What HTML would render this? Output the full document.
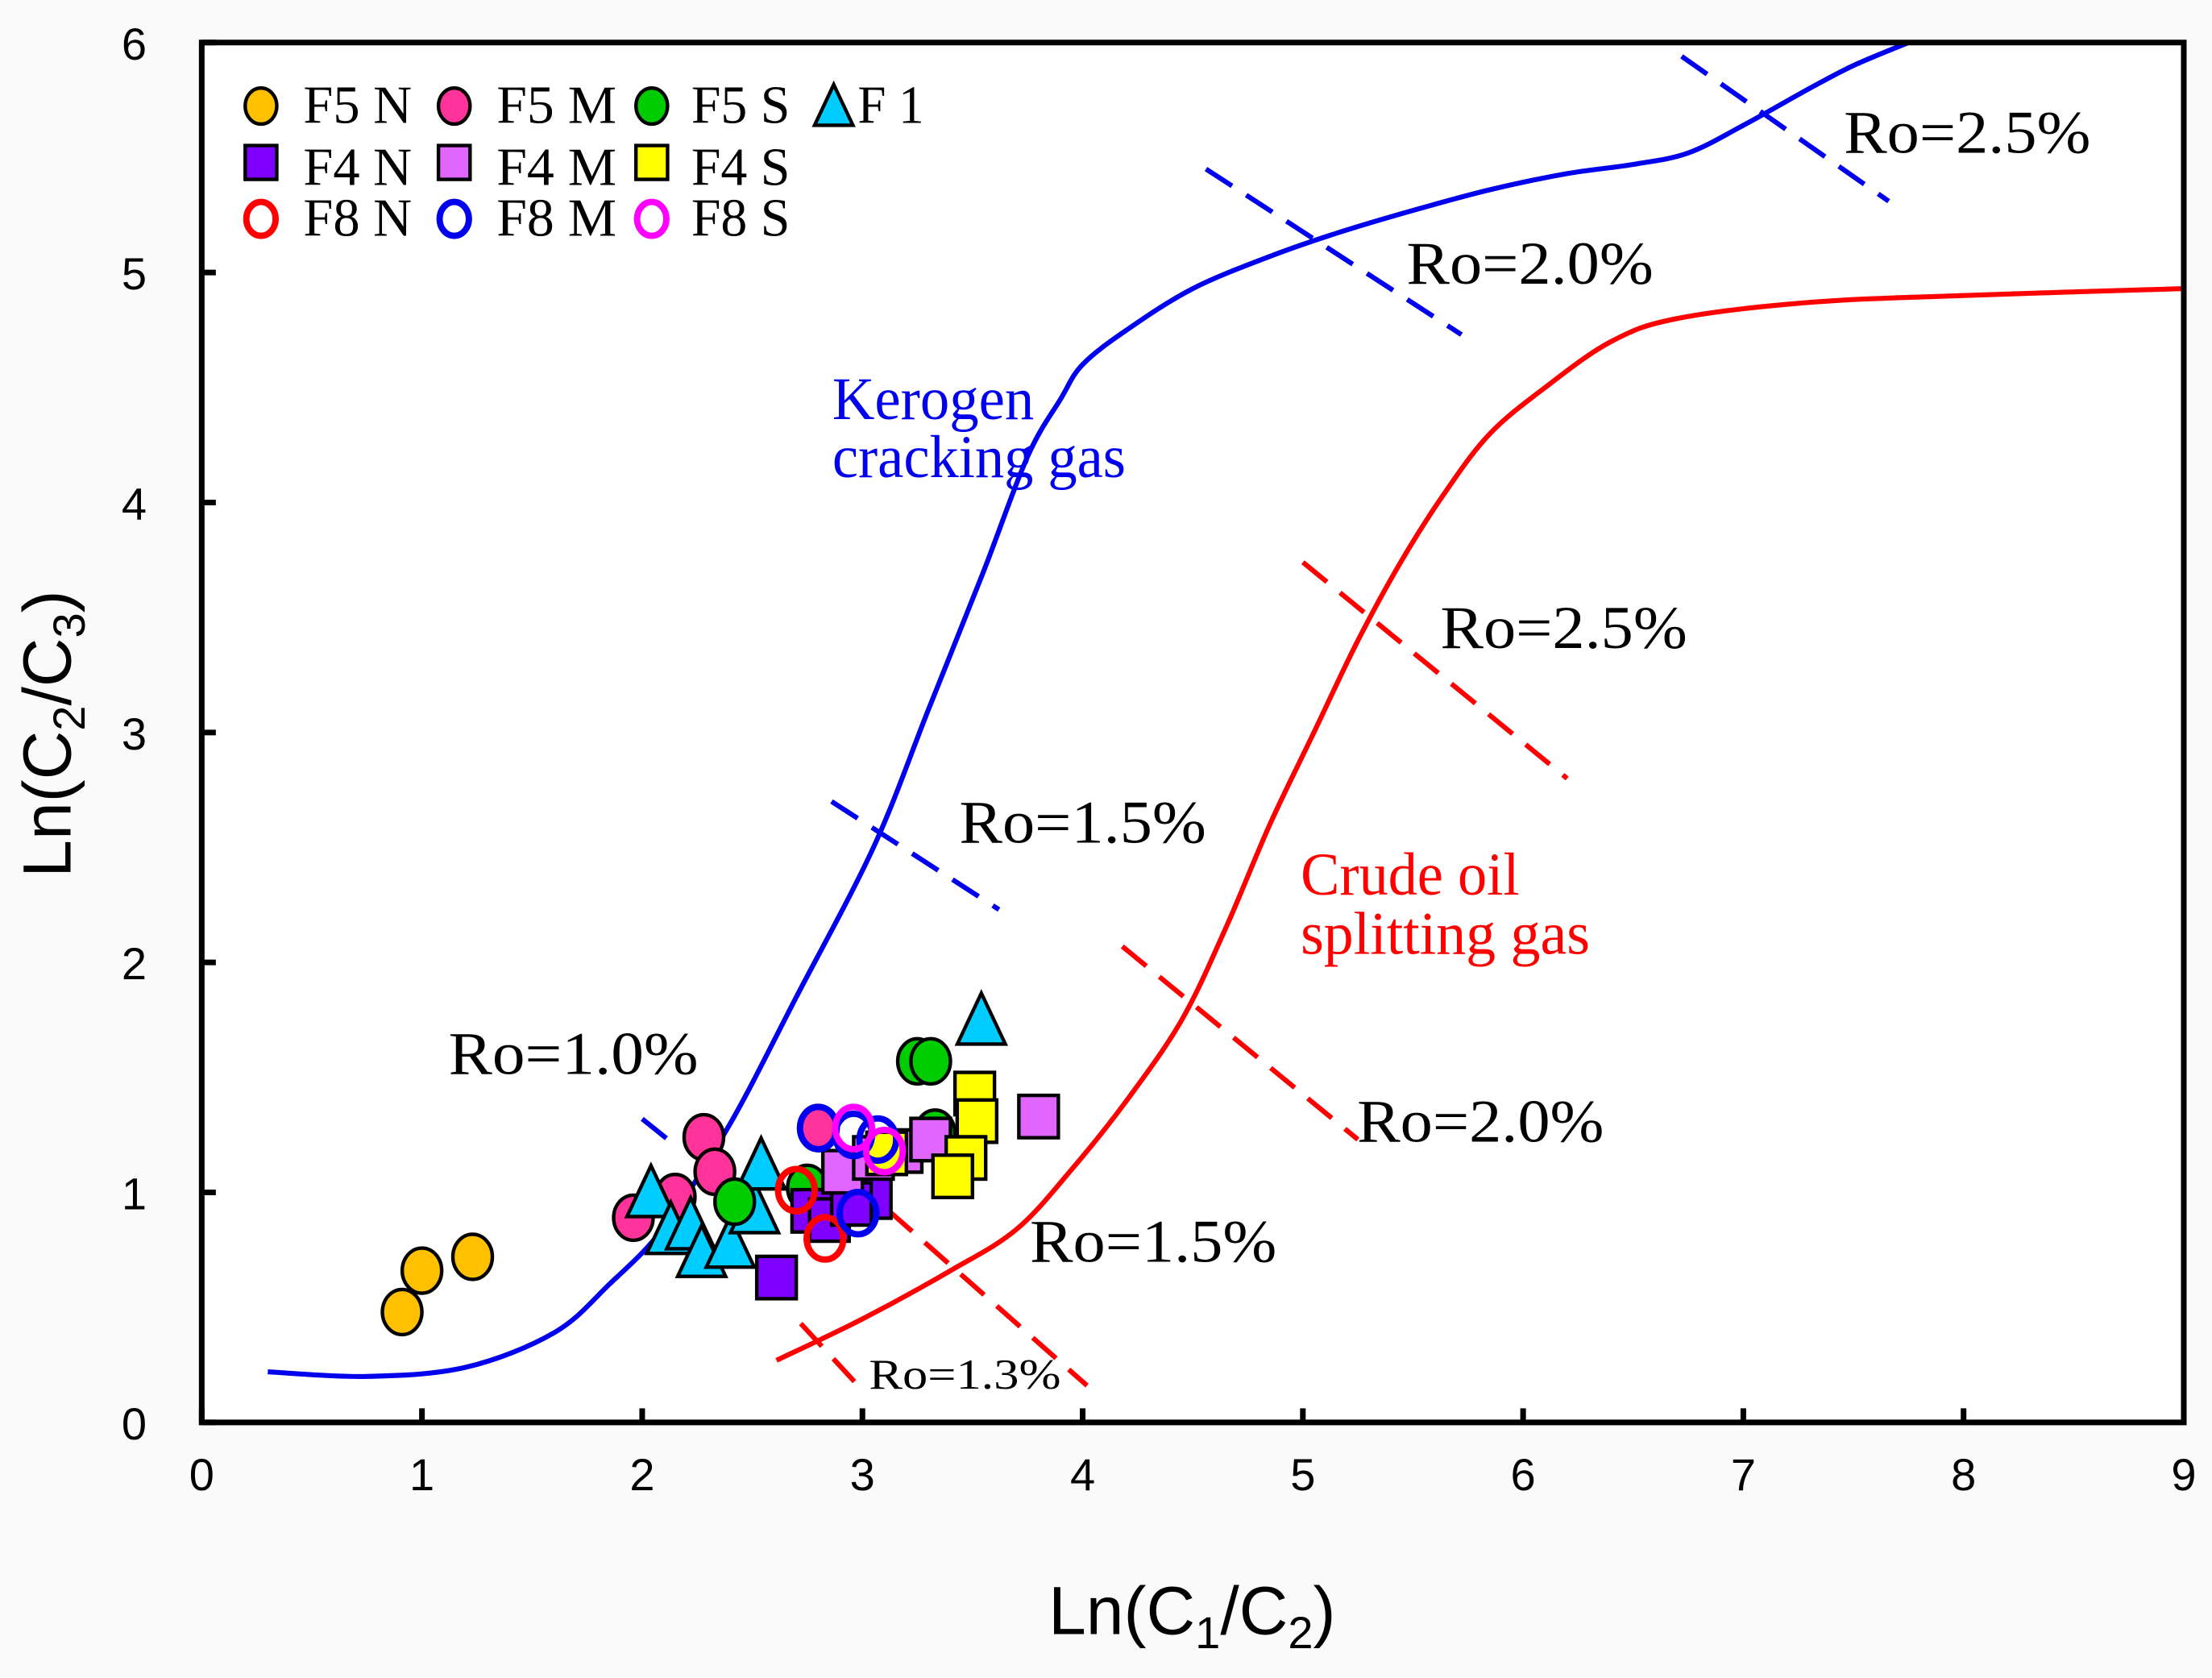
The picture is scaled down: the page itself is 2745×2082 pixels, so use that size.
<!DOCTYPE html>
<html><head><meta charset="utf-8"><style>
html,body{margin:0;padding:0;background:#fafafa;}
svg{display:block;}
text{font-family:"Liberation Serif",serif;}
.sans{font-family:"Liberation Sans",sans-serif;}
</style></head>
<body>
<svg id="chart" width="2745" height="2082" viewBox="0 0 1568 1189" xmlns="http://www.w3.org/2000/svg">
<rect x="0" y="0" width="1568" height="1189" fill="#fafafa"/>
<rect x="143" y="30" width="1405" height="978" fill="#ffffff"/>
<g id="curves"></g>
<g id="points"></g>
<rect x="143" y="30" width="1405" height="978" fill="none" stroke="#000" stroke-width="4"/>
<g id="axes"></g>
<text x="50" y="520" class="sans" font-size="48" text-anchor="middle" transform="rotate(-90 50 520)">Ln(C<tspan font-size="32" dy="10">2</tspan><tspan dy="-10">/C</tspan><tspan font-size="32" dy="10">3</tspan><tspan dy="-10">)</tspan></text>
<text x="845" y="1158" class="sans" font-size="48" text-anchor="middle">Ln(C<tspan font-size="32" dy="10">1</tspan><tspan dy="-10">/C</tspan><tspan font-size="32" dy="10">2</tspan><tspan dy="-10">)</tspan></text>
<g id="labels" font-size="43" lengthAdjust="spacingAndGlyphs">
<text x="318" y="761" textLength="177" lengthAdjust="spacingAndGlyphs">Ro=1.0%</text>
<text x="680" y="597" textLength="175" lengthAdjust="spacingAndGlyphs">Ro=1.5%</text>
<text x="997" y="201" textLength="175" lengthAdjust="spacingAndGlyphs">Ro=2.0%</text>
<text x="1307" y="108" textLength="175" lengthAdjust="spacingAndGlyphs">Ro=2.5%</text>
<text x="1021" y="459" textLength="175" lengthAdjust="spacingAndGlyphs">Ro=2.5%</text>
<text x="962" y="809" textLength="175" lengthAdjust="spacingAndGlyphs">Ro=2.0%</text>
<text x="730" y="894" textLength="175" lengthAdjust="spacingAndGlyphs">Ro=1.5%</text>
<text x="616" y="984" font-size="30" textLength="136" lengthAdjust="spacingAndGlyphs">Ro=1.3%</text>
<text x="590" y="297" fill="#0000ee" textLength="143" lengthAdjust="spacingAndGlyphs">Kerogen</text>
<text x="590" y="338" fill="#0000ee" textLength="208" lengthAdjust="spacingAndGlyphs">cracking gas</text>
<text x="922" y="634" fill="#ff0000" textLength="155" lengthAdjust="spacingAndGlyphs">Crude oil</text>
<text x="922" y="676" fill="#ff0000" textLength="205" lengthAdjust="spacingAndGlyphs">splitting gas</text>
</g>
<g id="legend"></g>
</svg>
<script>
const NS="http://www.w3.org/2000/svg";
const xTicks=[0,1,2,3,4,5,6,7,8,9];
const yTicks=[0,1,2,3,4,5,6];
const kerogenX=[0.3,0.75,1.2,1.6,1.85,2.1,2.4,2.7,3.05,3.3,3.55,3.75,3.9,4.0,4.2,4.5,4.85,5.15,5.5,5.85,6.2,6.5,6.75,7.0,7.3,7.5,7.75];
const kerogenY=[0.22,0.2,0.24,0.39,0.6,0.85,1.3,1.85,2.5,3.1,3.7,4.2,4.45,4.6,4.75,4.93,5.07,5.17,5.27,5.36,5.43,5.47,5.52,5.64,5.8,5.9,6.0];
const oilX=[2.61,3.0,3.4,3.7,3.95,4.2,4.45,4.65,4.85,5.05,5.25,5.45,5.65,5.85,6.1,6.4,6.7,7.3,8.0,9.0];
const oilY=[0.27,0.45,0.66,0.84,1.1,1.4,1.75,2.15,2.6,3.0,3.4,3.75,4.05,4.3,4.5,4.7,4.8,4.87,4.9,4.93];
const roBlue=[[2.0,1.32,2.13,1.22],[2.86,2.7,3.62,2.23],[4.56,5.45,5.72,4.73],[6.72,5.94,7.66,5.31]];
const roRed=[[2.72,0.43,3.0,0.14],[3.12,0.92,4.02,0.16],[4.18,2.07,5.25,1.23],[5.0,3.74,6.2,2.8]];
const f5nX=[0.91,1.0,1.23], f5nY=[0.48,0.66,0.72];
const f5mX=[1.96,2.15,2.28,2.33,2.8], f5mY=[0.89,0.98,1.24,1.09,1.28];
const f5sX=[2.42,2.75,3.25,3.31,3.33], f5sY=[0.96,1.02,1.57,1.57,1.26];
const f1X=[2.04,2.13,2.22,2.27,2.4,2.51,2.54,3.54], f1Y=[1.0,0.84,0.86,0.74,0.78,0.93,1.12,1.75];
const f4nX=[2.61,2.77,2.85,3.04,2.95], f4nY=[0.63,0.92,0.88,0.98,0.95];
const f4mX=[3.8,2.91,3.18,3.31,3.05], f4mY=[1.33,1.09,1.18,1.23,1.15];
const f4sX=[3.51,3.52,3.47,3.41,3.11], f4sY=[1.43,1.31,1.15,1.07,1.17];
const f8nX=[2.7,2.83], f8nY=[1.01,0.8];
const f8mX=[2.8,2.98,3.07,2.96], f8mY=[1.28,0.91,1.23,1.25];
const f8sX=[2.96,3.1], f8sY=[1.28,1.18];
const X0=143,X1=1548,Y0=1008,Y1=30;
const sx=v=>X0+(X1-X0)*v/9;
const sy=v=>Y0-(Y0-Y1)*v/6;
function mk(tag,attrs,parent){const e=document.createElementNS(NS,tag);for(const k in attrs)e.setAttribute(k,attrs[k]);parent.appendChild(e);return e;}
const axes=document.getElementById('axes');
xTicks.forEach(t=>{
  const l=mk('line',{x1:sx(t),x2:sx(t),y1:Y0,y2:Y0-10,stroke:'#000','stroke-width':4},axes);
  
  
  const tx=mk('text',{x:sx(t),y:Y0+48,'font-size':32,'text-anchor':'middle',class:'sans'},axes);
  tx.textContent=t;
  
  
});
yTicks.forEach(t=>{
  const l=mk('line',{x1:X0,x2:X0+10,y1:sy(t),y2:sy(t),stroke:'#000','stroke-width':4},axes);
  
  
  const tx=mk('text',{x:104,y:sy(t)+12,'font-size':32,'text-anchor':'end',class:'sans'},axes);
  tx.textContent=t;
  
  
});
const curves=document.getElementById('curves');
function curve(xs,ys,color,name){
  let d='M'+sx(xs[0])+','+sy(ys[0]);
  const P=xs.map((x,i)=>[sx(x),sy(ys[i])]);
  for(let i=0;i<P.length-1;i++){
    const p0=P[Math.max(i-1,0)],p1=P[i],p2=P[i+1],p3=P[Math.min(i+2,P.length-1)];
    d+=' C'+(p1[0]+(p2[0]-p0[0])/6)+','+(p1[1]+(p2[1]-p0[1])/6)+' '+(p2[0]-(p3[0]-p1[0])/6)+','+(p2[1]-(p3[1]-p1[1])/6)+' '+p2[0]+','+p2[1];
  }
  const p=mk('path',{d:d,fill:'none',stroke:color,'stroke-width':3.5},curves);
  
  
}
curve(kerogenX,kerogenY,'#0000ee','kerogen-cracking-curve');
curve(oilX,oilY,'#ff0000','crude-oil-splitting-curve');
function dashes(arr,color,name){
  arr.forEach(s=>{
    const l=mk('line',{x1:sx(s[0]),y1:sy(s[1]),x2:sx(s[2]),y2:sy(s[3]),stroke:color,'stroke-width':3.5,'stroke-dasharray':'22 12'},curves);
    
    
  });
}
dashes(roBlue,'#0000ee','kerogen-ro-isoline');
dashes(roRed,'#ff0000','oil-ro-isoline');
const pts=document.getElementById('points');
function marker(shape,cx,cy,fill,stroke,parent,small){
  const k=small?0.8:1;let e;
  if(shape==='c'){e=mk('ellipse',{cx:cx,cy:cy,rx:14*k,ry:16*k,fill:fill,stroke:'#000','stroke-width':2.5},parent);}
  else if(shape==='o'){e=mk('ellipse',{cx:cx,cy:cy,rx:13*k,ry:15*k,fill:'none',stroke:stroke,'stroke-width':4.5},parent);}
  else if(shape==='s'){e=mk('rect',{x:cx-14*k,y:cy-15*k,width:28*k,height:30*k,fill:fill,stroke:'#000','stroke-width':2.5},parent);}
  else {const w=17*k,h=19*k;e=mk('polygon',{points:(cx)+','+(cy-h)+' '+(cx+w)+','+(cy+h*0.9)+' '+(cx-w)+','+(cy+h*0.9),fill:fill,stroke:'#000','stroke-width':2.5},parent);}
  return e;
}
const S=[
 ['F5 N','c','#ffc000',null,f5nX,f5nY],
 ['F5 M','c','#ff3399',null,f5mX,f5mY],
 ['F1','t','#00ccff',null,f1X,f1Y],
 ['F5 S','c','#00cc00',null,f5sX,f5sY],
 ['F4 N','s','#7f00ff',null,f4nX,f4nY],
 ['F4 M','s','#e066ff',null,f4mX,f4mY],
 ['F4 S','s','#ffff00',null,f4sX,f4sY],
 ['F8 N','o',null,'#ff0000',f8nX,f8nY],
 ['F8 M','o',null,'#0000ee',f8mX,f8mY],
 ['F8 S','o',null,'#ff00ff',f8sX,f8sY]
];
S.forEach(s=>{
  s[4].forEach((x,i)=>{
    const e=marker(s[1],sx(x),sy(s[5][i]),s[2],s[3],pts,false);
    
    
  });
});
const leg=document.getElementById('legend');
const L=[['F5 N','c','#ffc000',null,185,75,215,77],['F5 M','c','#ff3399',null,322,75,352,85],['F5 S','c','#00cc00',null,462,75,490,70],['F 1','t','#00ccff',null,591,75,608,47],
['F4 N','s','#7f00ff',null,185,115,215,77],['F4 M','s','#e066ff',null,322,115,352,85],['F4 S','s','#ffff00',null,462,115,490,70],
['F8 N','o',null,'#ff0000',185,155,215,77],['F8 M','o',null,'#0000ee',322,155,352,85],['F8 S','o',null,'#ff00ff',462,155,490,70]];
L.forEach(l=>{
  const m=marker(l[1],l[4],l[5],l[2],l[3],leg,true);
  
  
  const t=mk('text',{x:l[6],y:l[5]+(l[1]==='s'?16:12),'font-size':38,textLength:l[7],lengthAdjust:'spacingAndGlyphs'},leg);
  t.textContent=l[0];
  
  
});
</script>
</body></html>
